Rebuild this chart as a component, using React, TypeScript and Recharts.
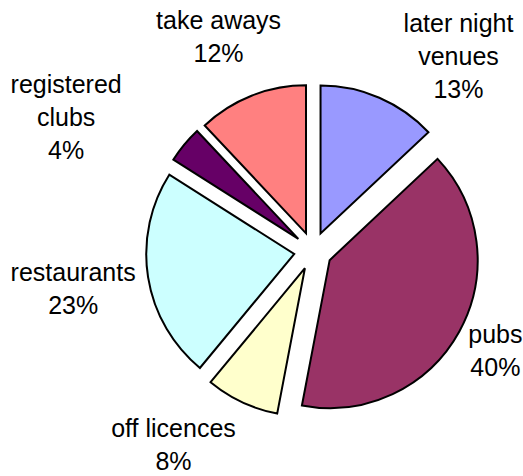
import React from 'react';
import { PieChart, Pie, Cell } from 'recharts';

// Share of premises by type (percent), clockwise from 12 o'clock
const categories = ['later night\nvenues', 'pubs', 'off licences', 'restaurants', 'registered\nclubs', 'take aways'];
const shares = [13, 40, 8, 23, 4, 12];
const colours = ['#9999FF', '#993366', '#FFFFCC', '#CCFFFF', '#660066', '#FF8080'];

const data = categories.map((name, i) => ({ name, value: shares[i] }));

const CX = 313;
const CY = 251;
const RADIUS = 148;
const EXPLODE = 19;
const LABEL_GAP = 8;
const LINE_HEIGHT = 33;
const FONT = '"Liberation Sans", Arial, sans-serif';

// nudges so the labels land where the original layout put them
const labelNudge: [number, number][] = [
  [76, -34],
  [29, 15],
  [-65, 35],
  [-67, 10],
  [-112, -22],
  [-30, -52],
];

const total = shares.reduce((a, b) => a + b, 0);

// pull every slice out along its middle angle
const explodeOffsets = shares.map((v, i) => {
  const before = shares.slice(0, i).reduce((a, b) => a + b, 0);
  const mid = ((before + v / 2) / total) * 2 * Math.PI;
  return [EXPLODE * Math.sin(mid), -EXPLODE * Math.cos(mid)];
});

const RAD = Math.PI / 180;

const renderLabel = (props: any) => {
  const { cx, cy, midAngle, outerRadius, index, name, percent } = props;
  const r = outerRadius + EXPLODE + LABEL_GAP;
  const [nx, ny] = labelNudge[index];
  const x = cx + r * Math.cos(-midAngle * RAD) + nx;
  const yc = cy + r * Math.sin(-midAngle * RAD) + ny;
  const lines = [...String(name).split('\n'), `${Math.round(percent * 100)}%`];
  const top = yc - ((lines.length - 1) * LINE_HEIGHT) / 2;
  return (
    <g key={`label-${index}`}>
      {lines.map((line, k) => (
        <text
          key={k}
          x={x}
          y={top + k * LINE_HEIGHT}
          textAnchor="middle"
          dominantBaseline="central"
          fill="#000"
          fontSize={25}
          fontFamily={FONT}
        >
          {line}
        </text>
      ))}
    </g>
  );
};

export default function App() {
  return (
    <div style={{ position: 'absolute', left: 0, top: 0, width: 523, height: 476, background: '#fff' }}>
      <PieChart width={523} height={476} margin={{ top: 0, right: 0, bottom: 0, left: 0 }}>
        <Pie
          data={data}
          dataKey="value"
          nameKey="name"
          cx={CX}
          cy={CY}
          outerRadius={RADIUS}
          startAngle={90}
          endAngle={-270}
          stroke="#000"
          strokeWidth={2}
          label={renderLabel}
          labelLine={false}
          isAnimationActive={false}
        >
          {data.map((d, i) => (
            <Cell
              key={d.name}
              fill={colours[i]}
              transform={`translate(${explodeOffsets[i][0]}, ${explodeOffsets[i][1]})`}
            />
          ))}
        </Pie>
      </PieChart>
    </div>
  );
}
